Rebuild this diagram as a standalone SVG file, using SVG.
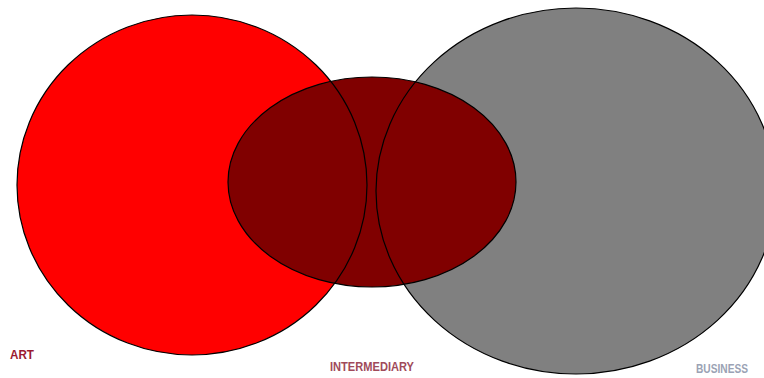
<svg xmlns="http://www.w3.org/2000/svg" width="764" height="378" viewBox="0 0 764 378">
<style>
.o{fill:none;stroke:#000;stroke-width:1.2}
.t{font-family:"Liberation Sans",Arial,sans-serif;font-size:12px;font-weight:bold}
</style>
<rect width="764" height="378" fill="#fff"/>
<g id="art">
<ellipse cx="192" cy="185" rx="175" ry="170" fill="#ff0000"/>
</g>
<g id="business">
<ellipse cx="576" cy="191" rx="200" ry="183" fill="#808080"/>
</g>
<g id="intermediary">
<ellipse cx="372" cy="182" rx="144" ry="105" fill="#800000" stroke="#000" stroke-width="1.2"/>
</g>
<g id="outlines">
<ellipse class="o" cx="192" cy="185" rx="175" ry="170"/>
<ellipse class="o" cx="576" cy="191" rx="200" ry="183"/>
</g>
<g id="labels">
<text class="t" x="10" y="359" fill="#9b1b30" textLength="24" lengthAdjust="spacingAndGlyphs">ART</text>
<text class="t" x="330" y="371" fill="#a04a5a" textLength="84" lengthAdjust="spacingAndGlyphs">INTERMEDIARY</text>
<text class="t" x="696" y="373" fill="#9aa2b4" textLength="52" lengthAdjust="spacingAndGlyphs">BUSINESS</text>
</g>
</svg>
